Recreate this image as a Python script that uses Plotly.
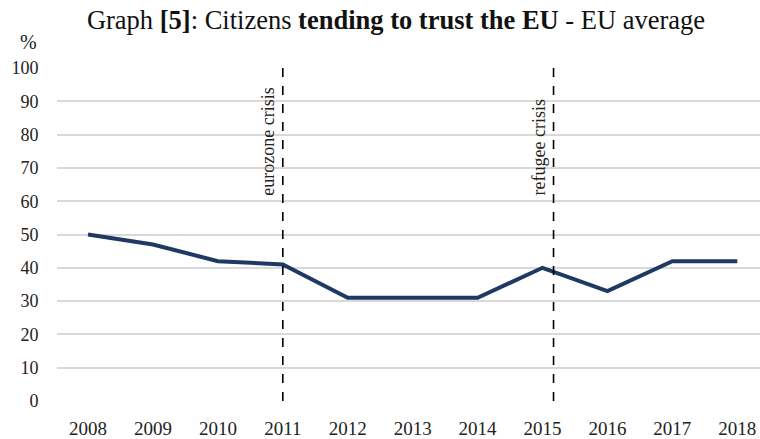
import plotly.graph_objects as go

years = ["2008", "2009", "2010", "2011", "2012", "2013", "2014", "2015", "2016", "2017", "2018"]
trust = [50, 47, 42, 41, 31, 31, 31, 40, 33, 42, 42]
events = ["eurozone crisis", "refugee crisis"]
event_pos = [3.0, 7.17]
y_ticks = list(range(0, 101, 10))

FONT = "Liberation Serif"
xs = list(range(len(years)))

W, H = 760, 439
L, R, T, B = 57, 0, 67, 36
PW, PH = W - L - R, H - T - B

fig = go.Figure()
fig.add_trace(go.Scatter(x=xs, y=trust, mode="lines",
                         line=dict(color="#203864", width=4), hoverinfo="skip"))

for name, pos in zip(events, event_pos):
    fig.add_shape(type="line", x0=pos, x1=pos, y0=0, y1=101, xref="x", yref="y",
                  line=dict(color="black", width=1.6, dash="dash"))
    fig.add_annotation(x=pos, y=61.0, xref="x", yref="y", text=name, textangle=-90,
                       showarrow=False, xanchor="right", yanchor="bottom", xshift=-3,
                       font=dict(family=FONT, size=18, color="#222"))

fig.add_annotation(x=-29 / PW, y=1 + 25 / PH, xref="paper", yref="paper", text="%",
                   showarrow=False, xanchor="center", yanchor="middle",
                   font=dict(family=FONT, size=20, color="#222"))

fig.update_layout(
    width=W, height=H,
    margin=dict(l=L, r=R, t=T, b=B),
    paper_bgcolor="white", plot_bgcolor="white",
    showlegend=False,
    title=dict(text="Graph <b>[5]</b>: Citizens <b>tending to trust the EU</b> - EU average",
               x=396 / W, xanchor="center", y=1 - 20 / H, yanchor="middle",
               font=dict(family=FONT, size=26.5, color="#111")),
    xaxis=dict(range=[-0.478, 10.35], tickvals=xs, ticktext=years, showgrid=False,
               zeroline=False, showline=False, ticks="outside", ticklen=10,
               tickcolor="rgba(0,0,0,0)",
               tickfont=dict(family=FONT, size=19, color="#222")),
    yaxis=dict(range=[0, 100.3], tickvals=y_ticks, showgrid=True, gridcolor="#d9d9d9",
               gridwidth=1.5, zeroline=False, showline=False, ticks="outside", ticklen=14,
               tickcolor="rgba(0,0,0,0)",
               tickfont=dict(family=FONT, size=18, color="#222")),
)

fig.write_html("out.html", config={"displayModeBar": False},
               post_script="document.body.style.margin='0';document.body.style.overflow='hidden';")
